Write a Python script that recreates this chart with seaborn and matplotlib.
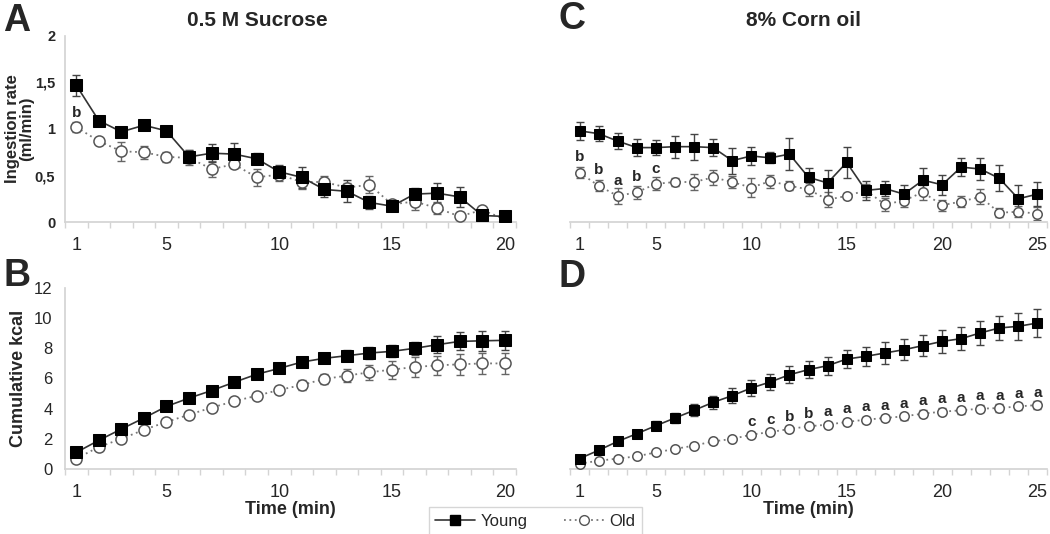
import numpy as np
import pandas as pd
import seaborn as sns
import matplotlib
matplotlib.use("Agg")
import matplotlib.pyplot as plt
from matplotlib.lines import Line2D

# data (means and SEM per minute)
young_a = [1.47, 1.09, 0.97, 1.04, 0.98, 0.70, 0.74, 0.73, 0.68, 0.54, 0.48, 0.35, 0.33, 0.21, 0.17, 0.30, 0.31, 0.27, 0.07, 0.06]
young_a_err = [0.11, 0.03, 0.03, 0.05, 0.04, 0.07, 0.10, 0.12, 0.06, 0.07, 0.11, 0.08, 0.12, 0.07, 0.04, 0.07, 0.11, 0.11, 0.02, 0.02]
old_a = [1.02, 0.87, 0.76, 0.75, 0.70, 0.69, 0.57, 0.62, 0.48, 0.51, 0.43, 0.43, 0.37, 0.40, 0.19, 0.22, 0.15, 0.06, 0.13, 0.03]
old_a_err = [0.05, 0.02, 0.10, 0.07, 0.05, 0.08, 0.09, 0.04, 0.09, 0.07, 0.08, 0.07, 0.05, 0.09, 0.05, 0.09, 0.06, 0.05, 0.03, 0.02]

young_b = [1.10, 1.90, 2.65, 3.38, 4.15, 4.70, 5.20, 5.75, 6.28, 6.67, 7.09, 7.34, 7.51, 7.69, 7.80, 8.00, 8.24, 8.46, 8.50, 8.53]
young_b_err = [0.10, 0.12, 0.15, 0.18, 0.20, 0.20, 0.20, 0.20, 0.20, 0.22, 0.25, 0.30, 0.35, 0.40, 0.40, 0.45, 0.55, 0.60, 0.65, 0.62]
old_b = [0.69, 1.46, 2.00, 2.60, 3.12, 3.60, 4.07, 4.49, 4.86, 5.24, 5.57, 5.97, 6.19, 6.41, 6.59, 6.76, 6.87, 6.94, 7.00, 7.00]
old_b_err = [0.10, 0.12, 0.15, 0.15, 0.20, 0.20, 0.20, 0.20, 0.20, 0.25, 0.30, 0.35, 0.45, 0.50, 0.60, 0.65, 0.65, 0.70, 0.70, 0.68]

young_c = [0.98, 0.95, 0.87, 0.80, 0.80, 0.81, 0.81, 0.80, 0.66, 0.71, 0.69, 0.73, 0.48, 0.42, 0.64, 0.34, 0.36, 0.30, 0.45, 0.40, 0.59, 0.57, 0.47, 0.25, 0.30]
young_c_err = [0.10, 0.08, 0.09, 0.09, 0.08, 0.12, 0.14, 0.09, 0.14, 0.10, 0.06, 0.17, 0.10, 0.14, 0.17, 0.10, 0.08, 0.10, 0.13, 0.11, 0.10, 0.12, 0.14, 0.15, 0.13]
old_c = [0.53, 0.39, 0.28, 0.32, 0.41, 0.43, 0.43, 0.48, 0.43, 0.37, 0.44, 0.39, 0.35, 0.24, 0.28, 0.34, 0.19, 0.23, 0.32, 0.18, 0.22, 0.27, 0.10, 0.11, 0.09]
old_c_err = [0.06, 0.06, 0.09, 0.07, 0.07, 0.04, 0.09, 0.08, 0.06, 0.10, 0.07, 0.05, 0.07, 0.08, 0.03, 0.07, 0.07, 0.07, 0.08, 0.06, 0.06, 0.08, 0.05, 0.06, 0.07]

young_d = [0.69, 1.24, 1.83, 2.34, 2.87, 3.38, 3.89, 4.42, 4.86, 5.37, 5.77, 6.25, 6.59, 6.85, 7.29, 7.47, 7.69, 7.91, 8.18, 8.46, 8.64, 9.02, 9.35, 9.46, 9.68]
young_d_err = [0.10, 0.15, 0.20, 0.25, 0.30, 0.35, 0.40, 0.45, 0.50, 0.50, 0.50, 0.55, 0.55, 0.60, 0.62, 0.65, 0.70, 0.70, 0.70, 0.75, 0.75, 0.80, 0.80, 0.90, 0.90]
old_d = [0.35, 0.55, 0.69, 0.84, 1.10, 1.33, 1.55, 1.83, 1.99, 2.28, 2.45, 2.65, 2.83, 2.94, 3.12, 3.27, 3.38, 3.49, 3.67, 3.80, 3.89, 4.00, 4.04, 4.15, 4.24]
old_d_err = [0.08, 0.10, 0.10, 0.12, 0.12, 0.15, 0.15, 0.15, 0.15, 0.18, 0.18, 0.18, 0.20, 0.20, 0.20, 0.20, 0.22, 0.22, 0.22, 0.22, 0.25, 0.25, 0.25, 0.25, 0.25]

# significance letters over the Old series: {minute: letter}
letters_a = {1: "b"}
letters_c = {1: "b", 2: "b", 3: "a", 4: "b", 5: "c"}
letters_d = {10: "c", 11: "c", 12: "b", 13: "b", 14: "a", 15: "a", 16: "a", 17: "a",
             18: "a", 19: "a", 20: "a", 21: "a", 22: "a", 23: "a", 24: "a", 25: "a"}

sns.set_theme(style="white")
plt.rcParams['font.family'] = ['Liberation Sans', 'DejaVu Sans']

W, H = 1050, 534
fig = plt.figure(figsize=(W / 100, H / 100), dpi=100)

def px_axes(left, right, top, bottom):
    return fig.add_axes([left / W, 1 - bottom / H, (right - left) / W, (bottom - top) / H])

ax_a = px_axes(65, 516, 36, 222)
ax_b = px_axes(65, 516, 288, 469)
ax_c = px_axes(570, 1047, 36, 222)
ax_d = px_axes(570, 1047, 288, 469)

spine_col = "#d4d4d4"

def draw(ax, young, young_err, old, old_err, letters, msize, let_off):
    t = np.arange(1, len(young) + 1)
    df = pd.DataFrame({"time": np.concatenate([t, t]),
                       "value": young + old,
                       "err": young_err + old_err,
                       "group": ["Young"] * len(t) + ["Old"] * len(t)})
    yg = df[df.group == "Young"]
    og = df[df.group == "Old"]
    ax.errorbar(og.time, og.value, yerr=og.err, fmt="none", ecolor="#666666",
                elinewidth=1.0, capsize=3, capthick=1.0, zorder=2)
    ax.errorbar(yg.time, yg.value, yerr=yg.err, fmt="none", ecolor="#444444",
                elinewidth=1.0, capsize=3, capthick=1.0, zorder=3)
    sns.lineplot(data=og, x="time", y="value", ax=ax, color="#777777", linestyle=(0, (1, 2)),
                 linewidth=1.3, marker="o", markersize=msize, markerfacecolor="white",
                 markeredgecolor="#555555", markeredgewidth=1.1, zorder=4)
    sns.lineplot(data=yg, x="time", y="value", ax=ax, color="#333333", linewidth=1.2,
                 marker="s", markersize=msize, markerfacecolor="black",
                 markeredgecolor="black", zorder=5)
    for m, s in letters.items():
        ax.annotate(s, (m, old[m - 1]), xytext=(0, let_off), textcoords="offset points",
                    ha="center", va="center", fontsize=11, fontweight="bold", zorder=6)
    n = len(young)
    ax.set_xlim(0.5, n + 0.5)
    ax.set_xticks([1, 5, 10, 15, 20] + ([25] if n == 25 else []))
    ax.set_xticks(np.arange(0.5, n + 1), minor=True)
    ax.tick_params(axis="x", which="major", length=0, pad=11, labelsize=13)
    ax.tick_params(axis="x", which="minor", length=4, width=1, color=spine_col, bottom=True)
    for side in ["top", "right"]:
        ax.spines[side].set_visible(False)
    ax.spines["bottom"].set_color(spine_col)
    ax.spines["left"].set_color(spine_col)
    ax.set_xlabel("")
    ax.set_ylabel("")

draw(ax_a, young_a, young_a_err, old_a, old_a_err, letters_a, 8, 10.5)
draw(ax_b, young_b, young_b_err, old_b, old_b_err, {}, 8, 0)
draw(ax_c, young_c, young_c_err, old_c, old_c_err, letters_c, 6.8, 11)
draw(ax_d, young_d, young_d_err, old_d, old_d_err, letters_d, 6.8, 9)

for ax in (ax_a, ax_c):
    ax.set_ylim(0, 2)
for ax in (ax_b, ax_d):
    ax.set_ylim(0, 12)

ax_a.set_yticks([0, 0.5, 1, 1.5, 2])
ax_a.set_yticklabels(["0", "0,5", "1", "1,5", "2"], fontweight="bold")
ax_a.tick_params(axis="y", length=0, pad=7, labelsize=10.5)
ax_a.set_ylabel("Ingestion rate\n(ml/min)", fontsize=12, fontweight="bold", linespacing=0.95)
ax_a.yaxis.set_label_coords(-0.068, 0.5)

ax_b.set_yticks(np.arange(0, 13, 2))
ax_b.tick_params(axis="y", length=0, pad=9, labelsize=12)
ax_b.set_ylabel("Cumulative kcal", fontsize=13, fontweight="bold")
ax_b.yaxis.set_label_coords(-0.085, 0.5)

for ax in (ax_c, ax_d):
    ax.spines["left"].set_visible(False)
    ax.set_yticks([])

for ax in (ax_b, ax_d):
    ax.set_xlabel("Time (min)", fontsize=13, fontweight="bold", labelpad=0)

fig.text(257 / W, 1 - 21 / H, "0.5 M Sucrose", ha="center", va="center", fontsize=15, fontweight="bold")
fig.text(803 / W, 1 - 20 / H, "8% Corn oil", ha="center", va="center", fontsize=15, fontweight="bold")

for lab, x, y in [("A", 17, 31), ("B", 17, 286), ("C", 572, 29), ("D", 572, 287)]:
    fig.text(x / W, 1 - y / H, lab, ha="center", va="baseline", fontsize=27, fontweight="bold")

handles = [Line2D([], [], color="#333333", linewidth=1.2, marker="s", markersize=7,
                  markerfacecolor="black", markeredgecolor="black"),
           Line2D([], [], color="#777777", linewidth=1.3, linestyle=(0, (1, 2)), marker="o",
                  markersize=7, markerfacecolor="white", markeredgecolor="#555555")]
leg = fig.legend(handles, ["Young", "Old"], loc="upper center", bbox_to_anchor=(535 / W, 1 - 507 / H),
                 ncol=2, fontsize=12, frameon=True, fancybox=False, edgecolor="#cccccc",
                 handlelength=2.4, columnspacing=2.2, borderpad=0.4, handletextpad=0.3,
                 borderaxespad=0)
leg.get_frame().set_linewidth(1.0)

fig.savefig("out.png", dpi=100)
